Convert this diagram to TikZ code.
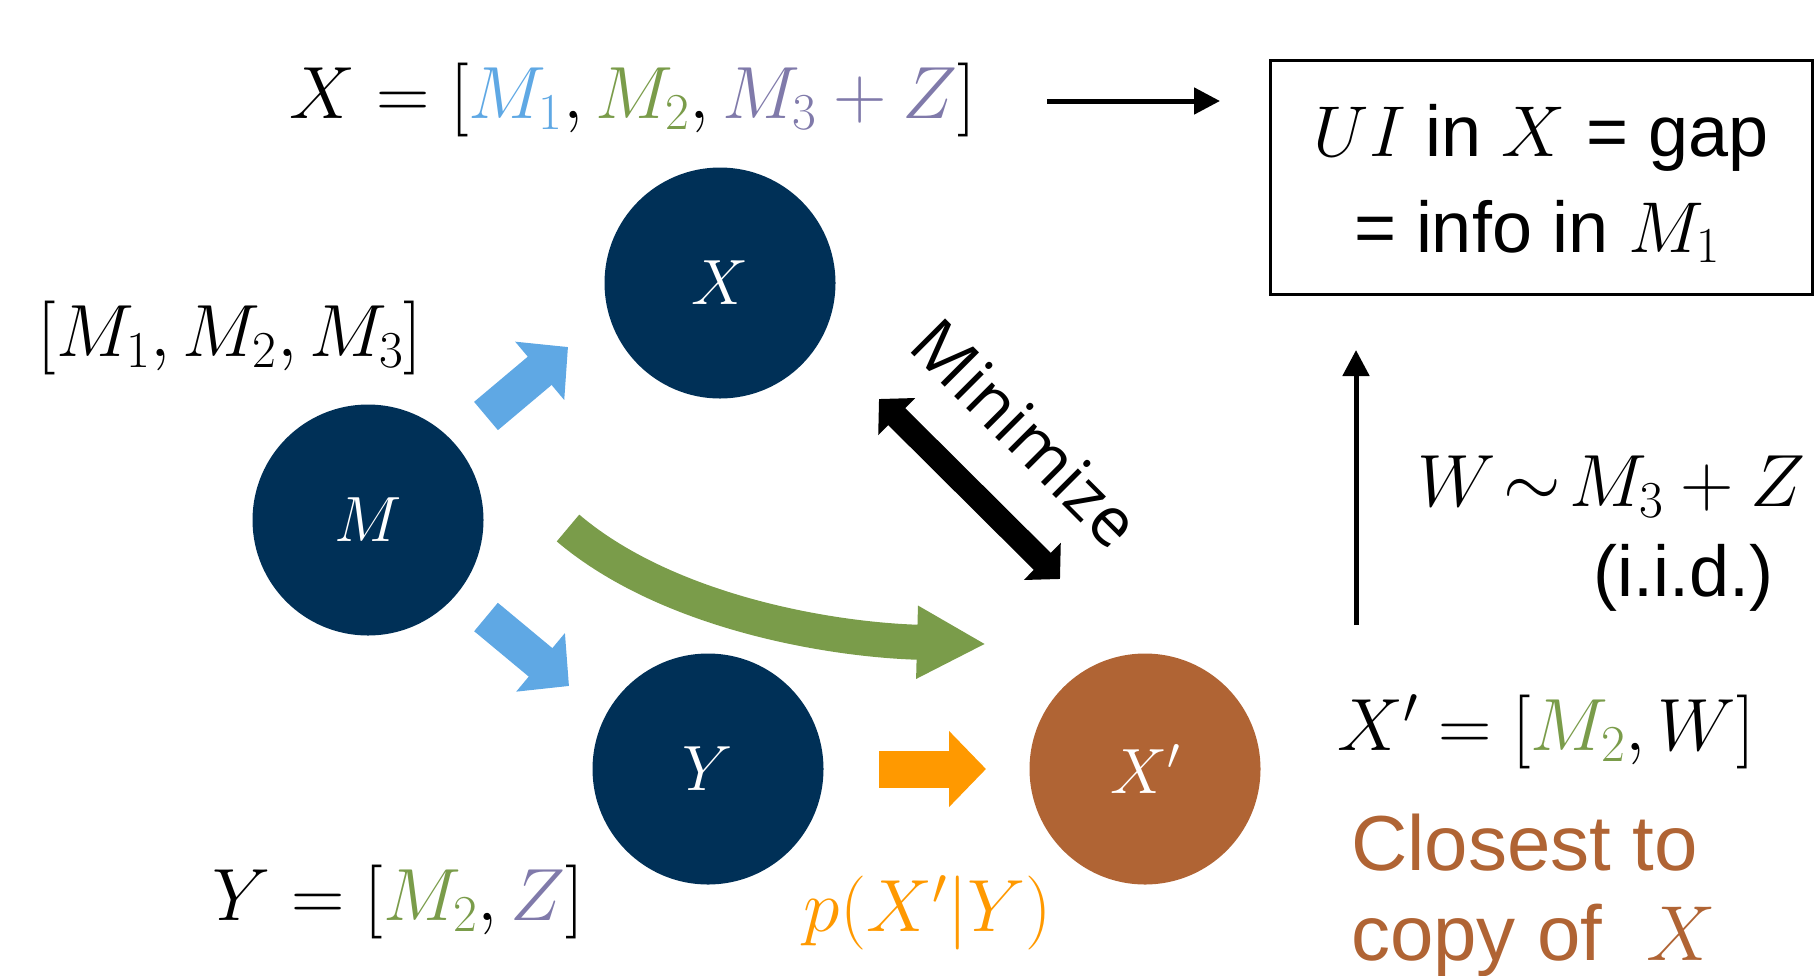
\RequirePackage{fix-cm}
\documentclass[tikz,border=0pt]{standalone}
\usepackage{fontspec}
\setmainfont{Liberation Sans}
\newfontfamily\segoe{Open Sans}
\usetikzlibrary{arrows.meta}
\definecolor{navy}{RGB}{0,48,87}
\definecolor{brownx}{RGB}{176,100,52}
\definecolor{blueM}{RGB}{95,168,228}
\definecolor{greenM}{RGB}{122,156,74}
\definecolor{orangeP}{RGB}{255,153,0}
\definecolor{purpleM}{RGB}{128,122,170}
\newcommand\fsC{\fontsize{64}{72}\selectfont}
\newcommand\fsM{\fontsize{74}{80}\selectfont}
\newcommand\fsT{\fontsize{72}{96}\selectfont}
\newcommand\fsB{\fontsize{78}{90}\selectfont}
\begin{document}
\begin{tikzpicture}[x=1pt,y=-1pt,
  circ/.style={circle,fill=navy,minimum size=231pt,inner sep=0pt,text=white,font=\fsC},
  mtext/.style={inner sep=0pt,font=\fsM},
  ttext/.style={inner sep=0pt,font=\fsT},
  btext/.style={inner sep=0pt,font=\fsB,text=brownx},
  thinarrow/.style={line width=5pt,-{Triangle[length=26pt,width=26pt]}},
  fatarrow/.style={line width=37pt,-{Triangle[length=37pt,width=74pt]}}]
\useasboundingbox (0,0) rectangle (1814,975);
% circles
\node[circ] (X) at (720,283) {$X$};
\node[circ] (M) at (368,520) {$M$};
\node[circ] (Y) at (708,769) {$Y$};
\node[circ,fill=brownx] (Xp) at (1145,769) {$X'$};
% texts
\node[mtext,anchor=base] (tX) at (633,118) {$X=[\textcolor{blueM}{M_1},\textcolor{greenM}{M_2},\textcolor{purpleM}{M_3+Z}]$};
\node[mtext,anchor=base] (tM) at (230,356) {$[M_1,M_2,M_3]$};
\node[mtext,anchor=base] (tY) at (398,920) {$Y=[\textcolor{greenM}{M_2},\textcolor{purpleM}{Z}]$};
\node[mtext,anchor=base,text=orangeP] (tp) at (928,931) {$p(X'|Y)$};
\node[mtext,anchor=base] (tXp) at (1546,750) {$X'=[\textcolor{greenM}{M_2},W]$};
\node[mtext,anchor=base] (tW) at (1611,506) {$W\!\sim\! M_3+Z$};
\node[ttext,anchor=base east] (tiid) at (1774,596) {(i.i.d.)};
\node[btext,anchor=base west] (tc1) at (1351,870) {Closest to};
\node[btext,anchor=base west] (tc2) at (1351,960) {copy of \ $X$};
% box
\node[draw,line width=3pt,minimum width=542pt,minimum height=234pt,inner sep=0pt] (box) at (1541,177) {};
\node[ttext,anchor=base] (bt1) at (1541,156) {$UI$ in $X$ = gap};
\node[ttext,anchor=base] (bt2) at (1537,252) {= info in $M_1$};
% thin arrows
\coordinate (t1) at (1047,101);
\coordinate (t2) at (1220,101);
\draw[thinarrow] (t1) -- (t2);
\coordinate (v1) at (1356,625);
\coordinate (v2) at (1356,350);
\draw[thinarrow] (v1) -- (v2);
% fat arrows
\coordinate (bx1) at (486,416);
\coordinate (bx2) at (568,347);
\draw[fatarrow,blueM] (bx1) -- (bx2);
\coordinate (by1) at (486,617);
\coordinate (by2) at (569,686);
\draw[fatarrow,blueM] (by1) -- (by2);
\coordinate (g1) at (568,528);
\coordinate (g2) at (986,644);
\draw[greenM,line width=35pt,-{Triangle[length=69pt,width=68pt]}] (g1) .. controls (667,612) and (830,640) .. (g2);
\coordinate (o1) at (879,769);
\coordinate (o2) at (986,769);
\draw[fatarrow,orangeP] (o1) -- (o2);
% minimize
\coordinate (d1) at (879,399);
\coordinate (d2) at (1060,579);
\draw[line width=24pt,{Triangle[length=25pt,width=51pt]}-{Triangle[length=25pt,width=51pt]}] (d1) -- (d2);
\node[rotate=-45,inner sep=0pt,font=\segoe\fontsize{68}{68}\selectfont] (min) at (1026,433) {Minimize};
\end{tikzpicture}
\end{document}
